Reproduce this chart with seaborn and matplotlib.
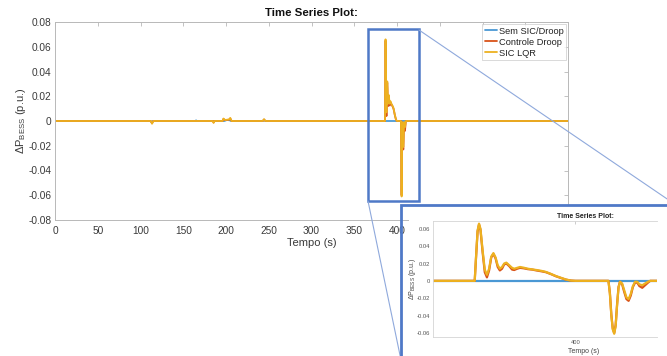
import matplotlib
matplotlib.use("Agg")
import matplotlib.pyplot as plt
from matplotlib.patches import Rectangle
from matplotlib.lines import Line2D
import seaborn as sns
import pandas as pd

# ---------------- data ----------------
series_names = ["Sem SIC/Droop", "Controle Droop", "SIC LQR"]

t_sem = [0, 111.5, 113, 114.5, 164, 165, 166, 198, 201, 204, 206, 243, 244.5, 246, 600]
p_sem = [0, 0, -0.0009, 0, 0, 0.0005, 0, 0, 0.0008, 0.0006, 0, 0, 0.0008, 0, 0]

t_pre = [0, 112, 113.5, 115, 184.5, 185.5, 186.5, 196, 197, 199, 201, 203.5, 205, 206.5,
         243, 244.5, 246]
lqr_pre = [0, 0, -0.0022, 0, 0, -0.0015, 0, 0, 0.002, 0.0008, 0.001, 0.0012, 0.0025, 0,
           0, 0.0015, 0]
droop_pre = [0, 0, -0.0018, 0, 0, -0.0012, 0, 0, 0.0016, 0.0007, 0.0009, 0.001, 0.002, 0,
             0, 0.0012, 0]

t_evt = [386.0, 386.2, 386.4, 386.6, 386.8, 387.1, 387.4, 387.7, 388.0, 388.3, 388.6, 388.9,
         389.2, 389.5, 389.8, 390.1, 390.4, 390.8, 391.2, 391.5, 391.9, 392.3, 392.8, 393.4,
         394.0, 394.6, 395.3, 395.9, 396.6, 397.3, 398.0, 398.7, 399.4, 400.0, 404.6, 404.8,
         405.0, 405.2, 405.4, 405.6, 405.8, 406.0, 406.2, 406.5, 406.8, 407.1, 407.4, 407.7,
         408.0, 408.3, 408.6, 408.9, 409.3, 409.7, 410.1, 410.4]
lqr_evt = [0, 0.030, 0.058, 0.066, 0.060, 0.035, 0.013, 0.007, 0.014, 0.028, 0.032, 0.027,
           0.018, 0.014, 0.016, 0.020, 0.021, 0.018, 0.015, 0.014, 0.015, 0.016, 0.0152, 0.014,
           0.0132, 0.0125, 0.0115, 0.0103, 0.008, 0.0055, 0.0035, 0.0015, 0.0003, 0, 0, -0.015,
           -0.040, -0.056, -0.061, -0.052, -0.028, -0.008, -0.001, -0.003, -0.011, -0.019,
           -0.021, -0.015, -0.006, -0.001, -0.001, -0.004, -0.005, -0.003, -0.001, 0]
droop_evt = [0, 0.029, 0.057, 0.065, 0.059, 0.033, 0.010, 0.004, 0.012, 0.027, 0.031, 0.026,
             0.016, 0.012, 0.014, 0.019, 0.020, 0.017, 0.013, 0.0125, 0.014, 0.015, 0.0145,
             0.0135, 0.013, 0.012, 0.011, 0.010, 0.0078, 0.0053, 0.0033, 0.0014, 0.0003, 0, 0,
             -0.014, -0.039, -0.055, -0.060, -0.051, -0.027, -0.007, -0.001, -0.004, -0.013,
             -0.021, -0.023, -0.017, -0.007, -0.002, -0.002, -0.006, -0.008, -0.005, -0.002, 0]
t_end = [600]
p_end = [0]

main_xticks = [0, 50, 100, 150, 200, 250, 300, 350, 400, 450, 500, 550, 600]
main_xticklabels = ["0", "50", "100", "150", "200", "250", "300", "350", "400", "", "", "", ""]
main_yticks = [-0.08, -0.06, -0.04, -0.02, 0, 0.02, 0.04, 0.06, 0.08]
main_yticklabels = ["-0.08", "-0.06", "-0.04", "-0.02", "0", "0.02", "0.04", "0.06", "0.08"]
inset_xticks = [400]
inset_xticklabels = ["400"]
inset_yticks = [-0.06, -0.04, -0.02, 0, 0.02, 0.04, 0.06]
inset_yticklabels = ["-0.06", "-0.04", "-0.02", "0", "0.02", "0.04", "0.06"]

# ---------------- table ----------------
df = pd.concat([
    pd.DataFrame({"t": t_sem, "dP": p_sem, "serie": series_names[0]}),
    pd.DataFrame({"t": t_pre + t_evt + t_end, "dP": droop_pre + droop_evt + p_end,
                  "serie": series_names[1]}),
    pd.DataFrame({"t": t_pre + t_evt + t_end, "dP": lqr_pre + lqr_evt + p_end,
                  "serie": series_names[2]}),
], ignore_index=True)

palette = {series_names[0]: "#4a98d4", series_names[1]: "#D95319", series_names[2]: "#EDB120"}

# ---------------- style ----------------
sns.set_theme(style="white")
plt.rcParams["font.family"] = ["Liberation Sans", "DejaVu Sans"]
plt.rcParams["mathtext.fontset"] = "custom"
plt.rcParams["mathtext.rm"] = "Liberation Sans"
plt.rcParams["mathtext.it"] = "Liberation Sans:italic"
plt.rcParams["mathtext.bf"] = "Liberation Sans:bold"

W, H = 667, 356
fig = plt.figure(figsize=(W / 100, H / 100), dpi=100)
fig.patch.set_facecolor("white")


def fx(px):
    return px / W


def fy(py):
    return 1 - py / H


spine_c = "#b8b8b8"
label_c = "#3a3a3a"

# ---------------- main axes ----------------
ax = fig.add_axes([fx(55), fy(220), fx(568) - fx(55), fy(22) - fy(220)])
sns.lineplot(data=df, x="t", y="dP", hue="serie", hue_order=series_names, palette=palette,
             estimator=None, sort=False, linewidth=1.3, ax=ax)
ax.set_xlim(0, 600)
ax.set_ylim(-0.08, 0.08)
ax.set_xticks(main_xticks)
ax.set_xticklabels(main_xticklabels)
ax.set_yticks(main_yticks)
ax.set_yticklabels(main_yticklabels)
ax.tick_params(direction="in", top=True, right=True, length=3, width=0.6, color=spine_c,
               labelcolor=label_c, labelsize=7.3)
ax.tick_params(axis="x", pad=4)
ax.tick_params(axis="y", pad=2.5)
for s in ax.spines.values():
    s.set_color(spine_c)
    s.set_linewidth(0.7)
ax.set_title("Time Series Plot:", fontsize=8.2, fontweight="bold", color="#111111", pad=4)
ax.set_xlabel("Tempo (s)", fontsize=8, color=label_c, labelpad=2)
ax.set_ylabel(r"$\Delta$P$_{\mathrm{BESS}}$ (p.u.)", fontsize=8, color=label_c, labelpad=0)
h, l = ax.get_legend_handles_labels()
leg = ax.legend(h, l, loc="upper right", fontsize=6.7, frameon=True, fancybox=False,
                edgecolor="#c8c8c8", handlelength=1.3, handletextpad=0.2, borderpad=0.25,
                labelspacing=0.22, borderaxespad=0.25)
leg.get_frame().set_linewidth(0.6)
for txt in leg.get_texts():
    txt.set_color("#222222")

# zoom rectangle (data coords)
zoom_c = "#4f79c7"
ax.add_patch(Rectangle((366.5, -0.0646), 59.5, 0.1386, fill=False, edgecolor=zoom_c,
                       linewidth=1.8, zorder=5))

# connectors + inset frame (figure coords)
fig.add_artist(Line2D([fx(419), fx(676)], [fy(30), fy(205)], color="#8fa9dc",
                      linewidth=0.8, zorder=4))
fig.add_artist(Line2D([fx(368), fx(401)], [fy(201), fy(360)], color="#8fa9dc",
                      linewidth=0.8, zorder=4))
fig.add_artist(Rectangle((fx(409), fy(362)), fx(676) - fx(409), fy(205) - fy(362),
                         facecolor="white", edgecolor="none", zorder=5))
fig.add_artist(Rectangle((fx(401), fy(362)), fx(676) - fx(401), fy(205) - fy(362),
                         facecolor="none", edgecolor=zoom_c, linewidth=2.0, zorder=5.5))

# ---------------- inset axes ----------------
ax2 = fig.add_axes([fx(433), fy(337), fx(657) - fx(433), fy(221) - fy(337)])
ax2.set_zorder(10)
sns.lineplot(data=df, x="t", y="dP", hue="serie", hue_order=series_names, palette=palette,
             estimator=None, sort=False, linewidth=1.6, ax=ax2, legend=False)
ax2.set_xlim(380.2, 411.35)
ax2.set_ylim(-0.0647, 0.069)
ax2.set_xticks(inset_xticks)
ax2.set_xticklabels(inset_xticklabels)
ax2.set_yticks(inset_yticks)
ax2.set_yticklabels(inset_yticklabels)
ax2.tick_params(direction="in", top=True, right=False, length=2, width=0.5, color=spine_c,
                labelcolor="#555555", labelsize=4.2, pad=2)
for k, s in ax2.spines.items():
    s.set_color("#d4d4d4")
    s.set_linewidth(0.6)
ax2.spines["right"].set_visible(False)
ax2.set_title("Time Series Plot:", fontsize=5, fontweight="bold", color="#222222", x=0.68,
              pad=2.5)
ax2.set_xlabel("Tempo (s)", fontsize=5, color="#444444")
ax2.xaxis.set_label_coords(0.674, -0.095)
ax2.set_ylabel(r"$\Delta$P$_{\mathrm{BESS}}$ (p.u.)", fontsize=5, color="#444444")
ax2.yaxis.set_label_coords(-0.068, 0.5)

fig.savefig("out.png", dpi=100, facecolor="white")
